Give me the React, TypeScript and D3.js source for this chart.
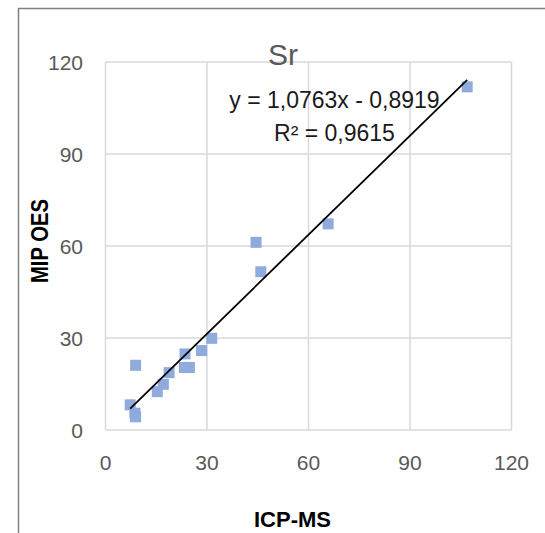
import React from "react";
import * as d3 from "d3";

const xTicks = [0, 30, 60, 90, 120];
const yTicks = [0, 30, 60, 90, 120];
const icpms = [106.9, 65.8, 44.5, 45.9, 31.4, 28.4, 23.5, 24.8, 23.3, 18.8, 17.1, 15.3, 8.9, 7.3, 8.7, 8.9];
const mipoes = [111.9, 67.2, 61.2, 51.6, 29.9, 25.9, 24.8, 20.4, 20.4, 18.7, 14.9, 12.5, 21.1, 8.2, 5.5, 4.3];
const slope = 1.0763;
const intercept = -0.8919;
const title = "Sr";
const eqLine1 = "y = 1,0763x - 0,8919";
const eqLine2 = "R² = 0,9615";
const xTitle = "ICP-MS";
const yTitle = "MIP OES";

const FONT = "'Liberation Sans', Arial, sans-serif";

export default function App() {
  const x = d3.scaleLinear().domain([0, 120]).range([105.5, 511.5]);
  const y = d3.scaleLinear().domain([0, 120]).range([430, 62]);
  const pts = icpms.map((v, i) => ({ x: v, y: mipoes[i] }));
  const xmin = d3.min(icpms) as number;
  const xmax = d3.max(icpms) as number;
  const line = d3
    .line<number>()
    .x((d) => x(d))
    .y((d) => y(slope * d + intercept));
  const ms = 11;
  return (
    <div style={{ position: "absolute", left: 0, top: 0 }}>
      <svg width={545} height={533} style={{ display: "block" }}>
        <rect x={0} y={0} width={545} height={533} fill="#fff" />
        <rect x={18.5} y={8.5} width={700} height={700} fill="#fff" stroke="#808080" strokeWidth={1.5} />
        {yTicks.map((t) => (
          <line key={"gy" + t} x1={x(0)} x2={x(120)} y1={y(t)} y2={y(t)} stroke="#d9d9d9" strokeWidth={1.5} />
        ))}
        {xTicks.map((t) => (
          <line key={"gx" + t} x1={x(t)} x2={x(t)} y1={y(0)} y2={y(120)} stroke="#d9d9d9" strokeWidth={1.5} />
        ))}
        {yTicks.map((t) => (
          <text key={"ly" + t} x={83} y={y(t)} dy="0.36em" textAnchor="end" fontFamily={FONT} fontSize={21} fill="#595959">
            {t}
          </text>
        ))}
        {xTicks.map((t) => (
          <text key={"lx" + t} x={x(t)} y={470} textAnchor="middle" fontFamily={FONT} fontSize={21} fill="#595959">
            {t}
          </text>
        ))}
        {pts.map((p, i) => (
          <rect key={"p" + i} x={x(p.x) - ms / 2} y={y(p.y) - ms / 2} width={ms} height={ms} fill="#8faadc" />
        ))}
        <path d={line([xmin, xmax]) || ""} fill="none" stroke="#000" strokeWidth={1.8} />
        <text x={283} y={65} textAnchor="middle" fontFamily={FONT} fontSize={30} fill="#595959">
          {title}
        </text>
        <text x={334.5} y={108} textAnchor="middle" fontFamily={FONT} fontSize={23} fill="#1a1a1a">
          {eqLine1}
        </text>
        <text x={334.5} y={140.5} textAnchor="middle" fontFamily={FONT} fontSize={23} fill="#1a1a1a">
          {eqLine2}
        </text>
        <text x={292.5} y={527} textAnchor="middle" fontFamily={FONT} fontSize={22} fontWeight="bold" fill="#000">
          {xTitle}
        </text>
        <text
          transform={`translate(48,241) rotate(-90)`}
          textAnchor="middle"
          fontFamily={FONT}
          fontSize={23}
          fontWeight="bold"
          fill="#000"
          textLength={84}
          lengthAdjust="spacingAndGlyphs"
        >
          {yTitle}
        </text>
      </svg>
    </div>
  );
}
